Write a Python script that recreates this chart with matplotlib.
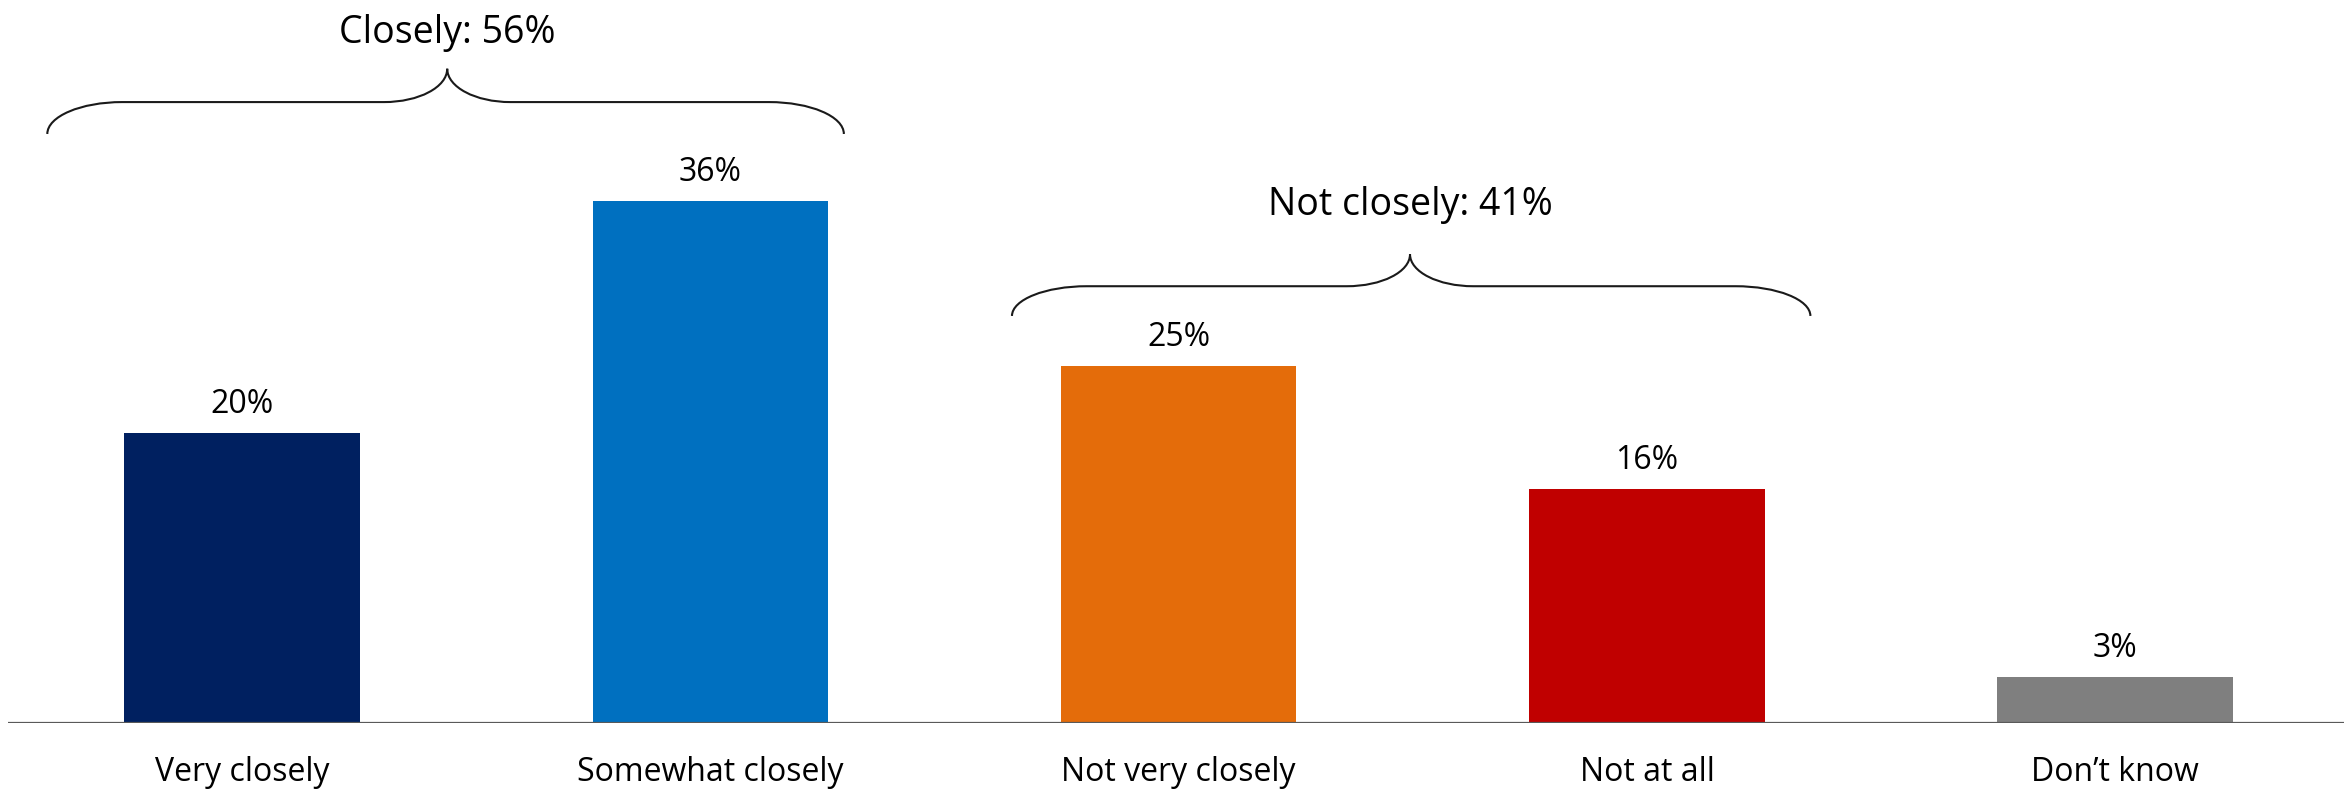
import matplotlib.pyplot as plt
from matplotlib.path import Path
from matplotlib.patches import PathPatch

plt.rcParams['font.family'] = ['Open Sans', 'DejaVu Sans']

categories = ['Very closely', 'Somewhat closely', 'Not very closely', 'Not at all', 'Don\u2019t know']
values = [20.0, 36.0, 24.6, 16.1, 3.15]
colors = ['#002060', '#0070C0', '#E46C0A', '#C00000', '#7F7F7F']

group_labels = ['Closely: 56%', 'Not closely: 41%']

# brace layout: (left, right, tip x, end y, line y, tip y, text y)
braces = [
    (-0.416, 1.285, 0.438, 40.6, 42.8, 45.1, 46.9),
    (1.644, 3.349, 2.494, 28.05, 30.1, 32.3, 35.0),
]


def brace_path(xl, xr, xt, ye, yl, yt, dxe=0.16, dxt=0.135):
    k = 0.552
    verts = [
        (xl, ye),
        (xl, ye + k * (yl - ye)), (xl + dxe * (1 - k), yl), (xl + dxe, yl),
        (xt - dxt, yl),
        (xt - dxt * (1 - k), yl), (xt, yt - k * (yt - yl)), (xt, yt),
        (xt, yt - k * (yt - yl)), (xt + dxt * (1 - k), yl), (xt + dxt, yl),
        (xr - dxe, yl),
        (xr - dxe * (1 - k), yl), (xr, ye + k * (yl - ye)), (xr, ye),
    ]
    codes = [Path.MOVETO,
             Path.CURVE4, Path.CURVE4, Path.CURVE4,
             Path.LINETO,
             Path.CURVE4, Path.CURVE4, Path.CURVE4,
             Path.CURVE4, Path.CURVE4, Path.CURVE4,
             Path.LINETO,
             Path.CURVE4, Path.CURVE4, Path.CURVE4]
    return Path(verts, codes)


fig = plt.figure(figsize=(23.44, 7.93), dpi=100)
ax = fig.add_axes([0.0034, 0.0887, 0.9989, 0.9113])

x = list(range(len(categories)))
ax.bar(x, values, width=0.503, color=colors, zorder=2)

for i, v in enumerate(values):
    ax.annotate('%.0f%%' % v, (i, v), xytext=(0, 20), textcoords='offset pixels',
                ha='center', va='baseline', fontsize=23, color='black')
    ax.annotate(categories[i], (i, 0), xytext=(0, -58), textcoords='offset pixels',
                ha='center', va='baseline', fontsize=23, color='black',
                annotation_clip=False)

for label, b in zip(group_labels, braces):
    xl, xr, xt, ye, yl, yt, ty = b
    ax.add_patch(PathPatch(brace_path(xl, xr, xt, ye, yl, yt), fill=False,
                           edgecolor='#1a1a1a', linewidth=1.5, clip_on=False))
    ax.text(xt, ty, label, ha='center', va='baseline', fontsize=27, color='black')

ax.axhline(0, color='#595959', linewidth=1.6, zorder=3)
ax.set_xlim(-0.5, 4.5)
ax.set_ylim(0, 49.84)
ax.axis('off')

fig.savefig('out.png', dpi=100)
